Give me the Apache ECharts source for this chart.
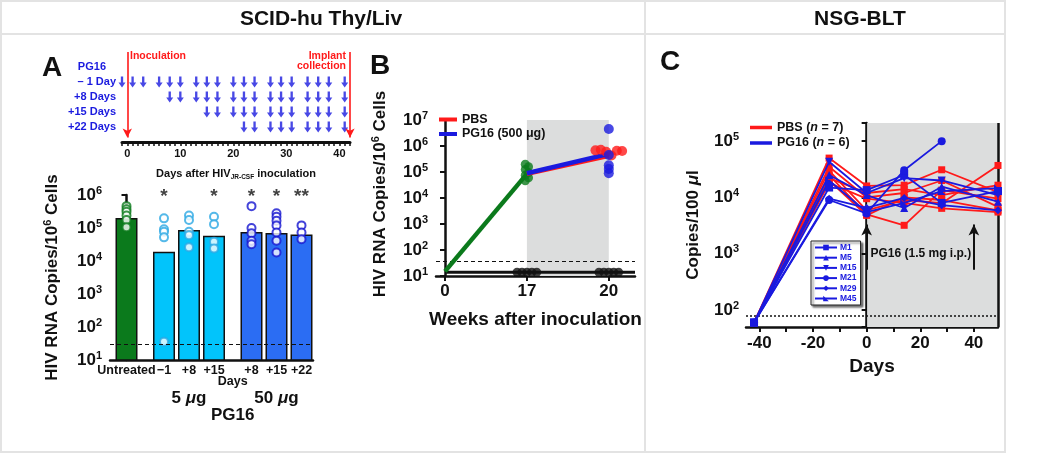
<!DOCTYPE html>
<html><head><meta charset="utf-8">
<script src="https://cdn.jsdelivr.net/npm/echarts@6/dist/echarts.min.js"></script>
<style>html,body{margin:0;padding:0;background:#fff}#c{width:1050px;height:455px}</style>
</head><body><div id="c"></div>
<script>
// ---------------- Panel A (top): PG16 dosing schedule ----------------
const scheduleRows = ['– 1 Day', '+8 Days', '+15 Days', '+22 Days'];
const doseDaysMinus1 = [-1, 1, 3, 6, 8, 10, 13, 15, 17, 20, 22, 24, 27, 29, 31, 34, 36, 38, 41];
const doseDaysPlus8 = [8, 10, 13, 15, 17, 20, 22, 24, 27, 29, 31, 34, 36, 38, 41];
const doseDaysPlus15 = [15, 17, 20, 22, 24, 27, 29, 31, 34, 36, 38, 41];
const doseDaysPlus22 = [22, 24, 27, 29, 31, 34, 36, 38, 41];
const inoculationDay = 0;
const collectionDay = 42;
const scheduleTickLabels = [0, 10, 20, 30, 40];

// ---------------- Panel A (bottom): HIV RNA per group ----------------
const barCategories = ['Untreated', '−1', '+8', '+15', '+8', '+15', '+22'];
const barGroups = ['Untreated', '5 μg', '5 μg', '5 μg', '50 μg', '50 μg', '50 μg'];
const barMeans = [2.0e5, 1.9e4, 8.7e4, 5.8e4, 7.6e4, 7.1e4, 6.3e4];
const pointsUntreated = [4.6e5, 3.7e5, 3.1e5, 2.4e5, 1.75e5, 1.05e5];
const points5ugMinus1 = [1.96e5, 9.1e4, 7.7e4, 5.2e4, 36];
const points5ugPlus8 = [2.4e5, 1.75e5, 7.7e4, 6.0e4, 2.6e4];
const points5ugPlus15 = [2.2e5, 1.3e5, 3.8e4, 2.4e4];
const points50ugPlus8 = [4.6e5, 1.0e5, 6.9e4, 4.1e4, 3.2e4];
const points50ugPlus15 = [2.8e5, 2.2e5, 1.65e5, 1.2e5, 7.3e4, 4.1e4, 1.8e4];
const points50ugPlus22 = [1.2e5, 7.3e4, 4.6e4];
const barSignificance = ['', '*', '', '*', '*', '*', '**'];
const detectionLimitA = 30;

// ---------------- Panel B ----------------
const weeksB = [0, 17, 20];
const greenLineB = [15, 8.5e4];              // weeks 0, 17
const greenDotsWk17 = [2.0e5, 1.6e5, 1.25e5, 9.5e4, 7.5e4, 6.0e4, 4.6e4];
const pbsLineB = [8.5e4, 4.2e5];             // weeks 17, 20
const pg16LineB = [9.0e4, 5.0e5];            // weeks 17, 20
const pbsDotsWk20 = [6.8e5, 7.2e5, 6.0e5, 4.3e5, 6.6e5, 6.4e5];
const pg16DotsWk20 = [4.5e6, 4.5e5, 1.8e5, 1.3e5, 9.0e4];
const undetectableB = 14;
const undetectableWk17 = [14, 14, 14, 14, 14];
const undetectableWk20 = [14, 14, 14, 14, 14];
const detectionLimitB = 38;

// ---------------- Panel C ----------------
const daysC = [-42, -14, 0, 14, 28, 49];
const pbsC1 = [60, 50000, 16000, 16500, 31000, 12400];
const pbsC2 = [60, 25000, 5000, 3200, 13500, 9500];
const pbsC3 = [60, 30000, 5900, 9000, 7900, 37000];
const pbsC4 = [60, 22000, 12000, 14000, 11000, 16500];
const pbsC5 = [60, 18000, 9500, 8000, 6400, 5500];
const pbsC6 = [60, 35000, 10000, 12000, 20000, 6800];
const pbsC7 = [60, 20000, 4800, 10000, 9000, 5900];
const pg16M1 = [60, 15000, 13500, 25000, 8000, 13000];
const pg16M5 = [60, 25000, 11000, 6500, 15500, 8400];
const pg16M15 = [60, 43000, 12000, 22000, 20000, 11000];
const pg16M21 = [60, 9000, 5200, 30500, 100000];
const pg16M29 = [60, 9500, 6500, 9800, 7300, 5900];
const pg16M45 = [60, 20000, 5500, 8000, 13000, 14600];
const detectionLimitC = 78;
const pg16DoseDaysC = [0, 40];

// ======================================================================
const FONT = '"Liberation Sans", Arial, Helvetica, sans-serif';
const BLACK = '#111';
const RED = '#ff1a1a';
const BLUE = '#1a1adf';
const chart = echarts.init(document.getElementById('c'), null, {width: 1050, height: 455});

const bold = (size, color) => ({fontFamily: FONT, fontWeight: 'bold', fontSize: size, color: color || BLACK});
const logFormatter = v => {
  const e = Math.log10(v);
  if (Math.abs(e - Math.round(e)) > 1e-6) return '';
  return '{b|10}{s|' + Math.round(e) + '}';
};
const logRich = (b, s) => ({b: bold(b), s: Object.assign(bold(s), {padding: [0, 0, Math.round(b * 0.55), 0]})});
const axisLineStyle = {lineStyle: {color: BLACK, width: 2.5}};
const tickStyle = {show: true, length: 5, lineStyle: {color: BLACK, width: 2}};

// bar positions with extra gap between groups
const barPos = [];
barCategories.forEach((c, i) => {
  if (i === 0) barPos.push(0);
  else barPos.push(barPos[i - 1] + (barGroups[i] !== barGroups[i - 1] ? 1.5 : 1));
});
const groupColor = {'Untreated': '#0b7a1c', '5 μg': '#02c4fb', '50 μg': '#2b6df3'};
const pointColor = {'Untreated': '#0b7a1c', '5 μg': '#2aa8e4', '50 μg': '#1414d0'};
const pointSets = [pointsUntreated, points5ugMinus1, points5ugPlus8, points5ugPlus15, points50ugPlus8, points50ugPlus15, points50ugPlus22];

const arrowDown = 'path://M2,0L4,0L4,5.5L6,5.5L3,10L0,5.5L2,5.5Z';
const scheduleSets = [doseDaysMinus1, doseDaysPlus8, doseDaysPlus15, doseDaysPlus22];

const series = [];

// ---- schedule ----
scheduleSets.forEach((days, r) => {
  series.push({
    type: 'scatter', name: scheduleRows[r], xAxisIndex: 0, yAxisIndex: 0,
    symbol: arrowDown, symbolSize: [7, 11], itemStyle: {color: BLUE},
    data: days.map(d => [d, scheduleRows.length - r]), silent: true,
    markLine: r === 0 ? {
      silent: true, symbol: ['none', 'arrow'], symbolSize: [7, 9], label: {show: false},
      data: [
        [{coord: [inoculationDay, 6]}, {coord: [inoculationDay, 0.3]}],
        [{coord: [collectionDay, 6]}, {coord: [collectionDay, 0.3]}]
      ],
      lineStyle: {color: RED, width: 1.6, type: 'solid'}
    } : undefined
  });
});

// ---- A bars ----
series.push({
  type: 'bar', xAxisIndex: 1, yAxisIndex: 1, barWidth: 22, clip: true,
  data: barMeans.map((v, i) => ({value: [barPos[i], v], itemStyle: {color: groupColor[barGroups[i]]}})),
  itemStyle: {borderColor: BLACK, borderWidth: 1.5},
  markLine: {silent: true, symbol: 'none', label: {show: false},
    lineStyle: {color: BLACK, type: [4, 3], width: 1.2}, data: [{yAxis: detectionLimitA}]}
});
pointSets.forEach((pts, i) => {
  series.push({
    type: 'scatter', xAxisIndex: 1, yAxisIndex: 1, symbol: 'circle', symbolSize: 8,
    itemStyle: {color: '#fff', borderColor: pointColor[barGroups[i]], borderWidth: 2},
    data: pts.map(v => [barPos[i], v])
  });
});
series.push({
  type: 'scatter', xAxisIndex: 1, yAxisIndex: 1, symbolSize: 0,
  data: barSignificance.map((s, i) => ({value: [barPos[i], 1e6], label: {show: !!s, formatter: s}})),
  label: {position: 'inside', offset: [0, 2], ...bold(19)}
});

// ---- B ----
const wIdx = w => weeksB.indexOf(w);
const spread = (arr, center, step) => arr.map((v, j) => [center + (j - (arr.length - 1) / 2) * step, v]);
series.push({
  type: 'line', name: 'Undetectable', xAxisIndex: 2, yAxisIndex: 2, symbol: 'none',
  lineStyle: {color: BLACK, width: 3}, color: BLACK, z: 3,
  data: [[wIdx(0), undetectableB], [2.32, undetectableB]],
  markArea: {silent: true, itemStyle: {color: '#dcdddd'}, data: [[{xAxis: wIdx(17)}, {xAxis: wIdx(20)}]]},
  markLine: {silent: true, symbol: 'none', label: {show: false},
    lineStyle: {color: BLACK, type: [4, 3], width: 1.2}, data: [{yAxis: detectionLimitB}]}
});
series.push({type: 'scatter', xAxisIndex: 2, yAxisIndex: 2, symbolSize: 9, itemStyle: {color: BLACK}, z: 4,
  data: spread(undetectableWk17, wIdx(17), 0.06).concat(spread(undetectableWk20, wIdx(20), 0.06))});
series.push({type: 'line', xAxisIndex: 2, yAxisIndex: 2, symbol: 'none', color: '#0b7a1c',
  lineStyle: {width: 4.5}, data: [[wIdx(0), greenLineB[0]], [wIdx(17), greenLineB[1]]], z: 5});
series.push({type: 'scatter', xAxisIndex: 2, yAxisIndex: 2, symbolSize: 9, itemStyle: {color: '#0b7a1c'}, z: 5,
  data: greenDotsWk17.map((v, j) => [wIdx(17) + (j % 2 ? 0.02 : -0.02), v])});
series.push({type: 'line', name: 'PBS', xAxisIndex: 2, yAxisIndex: 2, symbol: 'none', color: RED,
  lineStyle: {width: 4.5}, data: [[wIdx(17), pbsLineB[0]], [wIdx(20), pbsLineB[1]]], z: 6});
series.push({type: 'line', name: 'PG16 (500 μg)', xAxisIndex: 2, yAxisIndex: 2, symbol: 'none', color: BLUE,
  lineStyle: {width: 4.5}, data: [[wIdx(17), pg16LineB[0]], [wIdx(20), pg16LineB[1]]], z: 7});
series.push({type: 'scatter', xAxisIndex: 2, yAxisIndex: 2, symbolSize: 10, itemStyle: {color: RED}, z: 8,
  data: spread(pbsDotsWk20, wIdx(20), 0.065)});
series.push({type: 'scatter', xAxisIndex: 2, yAxisIndex: 2, symbolSize: 10, itemStyle: {color: BLUE}, z: 9,
  data: pg16DotsWk20.map(v => [wIdx(20), v])});

// ---- C ----
const pbsSetsC = [pbsC1, pbsC2, pbsC3, pbsC4, pbsC5, pbsC6, pbsC7];
const pg16SetsC = [
  {name: 'M1', data: pg16M1, symbol: 'rect', rot: 0},
  {name: 'M5', data: pg16M5, symbol: 'triangle', rot: 0},
  {name: 'M15', data: pg16M15, symbol: 'triangle', rot: 180},
  {name: 'M21', data: pg16M21, symbol: 'circle', rot: 0},
  {name: 'M29', data: pg16M29, symbol: 'diamond', rot: 0},
  {name: 'M45', data: pg16M45, symbol: 'path://M0,0L0,10L10,10Z', rot: 0}
];
series.push({
  type: 'line', name: 'PG16 (n = 6)', xAxisIndex: 3, yAxisIndex: 3, color: BLUE, data: [], symbol: 'none',
  markArea: {silent: true, itemStyle: {color: '#dcdddd'}, data: [[{xAxis: 0}, {xAxis: 49}]]},
  markLine: {silent: true, symbol: 'none', label: {show: false}, data: [
    {xAxis: 0, lineStyle: {color: BLACK, width: 1.2, type: 'solid'}},
    {xAxis: 49, lineStyle: {color: BLACK, width: 2.5, type: 'solid'}},
    {yAxis: detectionLimitC, lineStyle: {color: BLACK, width: 1.5, type: [2, 2]}},
    [{coord: [pg16DoseDaysC[0], 520], symbol: 'none'}, {coord: [pg16DoseDaysC[0], 3300], symbol: 'arrow', symbolSize: [8, 11], lineStyle: {color: BLACK, width: 2, type: 'solid'}}],
    [{coord: [pg16DoseDaysC[1], 520], symbol: 'none'}, {coord: [pg16DoseDaysC[1], 3300], symbol: 'arrow', symbolSize: [8, 11], lineStyle: {color: BLACK, width: 2, type: 'solid'}}]
  ]}
});
pbsSetsC.forEach(arr => series.push({
  type: 'line', name: 'PBS (n = 7)', xAxisIndex: 3, yAxisIndex: 3, color: RED, symbol: 'rect', symbolSize: 7,
  lineStyle: {width: 1.8}, data: arr.map((v, j) => [daysC[j], v]), z: 5
}));
pg16SetsC.forEach(s => series.push({
  type: 'line', name: s.name, xAxisIndex: 3, yAxisIndex: 3, color: BLUE, symbol: s.symbol, symbolRotate: s.rot,
  symbolSize: 8, lineStyle: {width: 1.8}, data: s.data.map((v, j) => [daysC[j], v]), z: 6
}));

const option = {
  animation: false,
  backgroundColor: '#fff',
  textStyle: {fontFamily: FONT},
  grid: [
    {left: 122, top: 52, width: 228, height: 90},
    {left: 110, top: 195, width: 203, height: 165},
    {left: 436, top: 120, width: 199, height: 156},
    {left: 746, top: 123, width: 252, height: 204}
  ],
  xAxis: [
    {gridIndex: 0, type: 'value', min: -1, max: 42, splitLine: {show: false},
      axisLine: {lineStyle: {color: BLACK, width: 3}},
      axisTick: {show: true, length: 4, lineStyle: {color: BLACK, width: 1.5},
        customValues: Array.from({length: 44}, (_, k) => k - 1)},
      axisLabel: {customValues: scheduleTickLabels, margin: 6, ...bold(11)},
      name: '{t|Days after HIV}{sub|JR-CSF}{t| inoculation}', nameLocation: 'middle', nameGap: 25,
      nameTextStyle: {rich: {t: bold(11), sub: Object.assign(bold(6.5), {padding: [7, 0, 0, 0]})}}},
    {gridIndex: 1, type: 'value', min: -0.66, max: 7.46, splitLine: {show: false}, axisLine: axisLineStyle,
      axisTick: {show: false},
      axisLabel: {customValues: barPos, margin: 4, ...bold(12.5),
        formatter: v => { const i = barPos.findIndex(p => Math.abs(p - v) < 1e-6); return i >= 0 ? barCategories[i] : ''; }}},
    {gridIndex: 2, type: 'value', min: -0.11, max: 2.32, splitLine: {show: false}, axisLine: axisLineStyle,
      axisTick: Object.assign({}, tickStyle, {customValues: weeksB.map((w, i) => i)}),
      axisLabel: {customValues: weeksB.map((w, i) => i), margin: 7, ...bold(17),
        formatter: v => { const i = Math.round(v); return Math.abs(i - v) < 1e-6 && weeksB[i] !== undefined ? String(weeksB[i]) : ''; }},
      name: 'Weeks after inoculation', nameLocation: 'middle', nameGap: 34, nameTextStyle: bold(19)},
    {gridIndex: 3, type: 'value', min: -45, max: 49, splitLine: {show: false}, axisLine: axisLineStyle,
      axisTick: Object.assign({}, tickStyle, {customValues: [-40, -30, -20, -10, 0, 10, 20, 30, 40]}),
      axisLabel: {customValues: [-40, -20, 0, 20, 40], margin: 8, ...bold(17)},
      name: 'Days', nameLocation: 'middle', nameGap: 30, nameTextStyle: bold(19)}
  ],
  yAxis: [
    {gridIndex: 0, type: 'value', min: 0, max: 6, splitLine: {show: false}, axisLine: {show: false}, axisTick: {show: false},
      axisLabel: {customValues: [5, 4, 3, 2, 1], margin: 6,
        formatter: v => v === 5 ? '{p|PG16}' : '{r|' + scheduleRows[4 - v] + '}',
        rich: {p: Object.assign(bold(11, BLUE), {padding: [0, 10, 0, 0]}), r: bold(11, BLUE)}}},
    {gridIndex: 1, type: 'log', min: 10, max: 1e6, splitLine: {show: false}, axisLine: axisLineStyle, axisTick: tickStyle,
      axisLabel: {formatter: logFormatter, rich: logRich(17, 11), margin: 8},
      name: '{t|HIV RNA Copies/10}{s|6}{t| Cells}', nameLocation: 'middle', nameGap: 48,
      nameTextStyle: {rich: {t: bold(17), s: Object.assign(bold(11), {padding: [0, 0, 9, 0]})}}},
    {gridIndex: 2, type: 'log', min: 10, max: 1e7, splitLine: {show: false}, axisLine: axisLineStyle, axisTick: tickStyle,
      axisLabel: {formatter: logFormatter, rich: logRich(17, 11), margin: 8},
      name: '{t|HIV RNA Copies/10}{s|6}{t| Cells}', nameLocation: 'middle', nameGap: 46,
      nameTextStyle: {padding: [0, 0, 0, 8], rich: {t: bold(17), s: Object.assign(bold(11), {padding: [0, 0, 9, 0]})}}},
    {gridIndex: 3, type: 'log', min: 50, max: 2.1e5, splitLine: {show: false}, axisLine: axisLineStyle, axisTick: tickStyle,
      axisLabel: {formatter: logFormatter, rich: logRich(17, 11), margin: 7},
      name: '{t|Copies/100 }{i|μ}{t|l}', nameLocation: 'middle', nameGap: 44,
      nameTextStyle: {rich: {t: bold(17), i: Object.assign(bold(17), {fontStyle: 'italic'})}}}
  ],
  legend: [
    {data: ['PBS', 'PG16 (500 μg)'], left: 439, top: 113, orient: 'vertical', icon: 'rect', itemWidth: 18, itemHeight: 4,
      itemGap: 1.5, selectedMode: false, textStyle: bold(12.5), padding: 0},
    {data: ['PBS (n = 7)', 'PG16 (n = 6)'], left: 750, top: 121, orient: 'vertical', icon: 'rect', itemWidth: 22, itemHeight: 3.5,
      itemGap: 2.5, selectedMode: false, padding: 0,
      formatter: n => { const k = n.indexOf('(n'); return '{t|' + n.slice(0, k) + '(}{i|n}{t|' + n.slice(k + 2) + '}'; },
      textStyle: {rich: {t: bold(12.5), i: Object.assign(bold(12.5), {fontStyle: 'italic'})}}},
    {data: ['M1', 'M5', 'M15', 'M21', 'M29', 'M45'], left: 811, top: 241, orient: 'vertical', itemWidth: 22, itemHeight: 7,
      itemGap: 1.2, selectedMode: false, padding: [2, 4, 2, 3], backgroundColor: '#fff', borderColor: '#222', borderWidth: 1,
      shadowColor: 'rgba(0,0,0,0.55)', shadowOffsetX: 2, shadowOffsetY: 2, shadowBlur: 2,
      textStyle: Object.assign(bold(8.5, BLUE), {padding: [0, 0, 0, -2]})}
  ],
  series: series
};
chart.setOption(option);

// ---------- annotations placed through the axes ----------
const pxA = (x, y) => chart.convertToPixel({xAxisIndex: 1, yAxisIndex: 1}, [x, y]);
const pxC = (x, y) => chart.convertToPixel({xAxisIndex: 3, yAxisIndex: 3}, [x, y]);
const treated = barPos.filter((p, i) => barGroups[i] !== 'Untreated');
const mean = a => a.reduce((s, v) => s + v, 0) / a.length;
const g5 = mean(barPos.filter((p, i) => barGroups[i] === '5 μg'));
const g50 = mean(barPos.filter((p, i) => barGroups[i] === '50 μg'));
const midTreated = (Math.min(...treated) + Math.max(...treated)) / 2;
const tDays = pxA(midTreated, 10)[0];
const t5 = pxA(g5, 10)[0];
const t50 = pxA(g50, 10)[0];
const cText = pxC(20.2, 1000);

const txt = (x, y, text, style, align) => ({type: 'text', x: x, y: y, silent: true, z: 100,
  style: Object.assign({text: text, align: align || 'center', verticalAlign: 'middle'}, style)});
const fnt = (sz, italic) => (italic ? 'italic ' : '') + 'bold ' + sz + 'px ' + FONT;

chart.setOption({
  graphic: [
    {type: 'rect', silent: true, shape: {x: 1, y: 1, width: 1004, height: 451}, style: {fill: 'none', stroke: '#e3e3e3', lineWidth: 2}},
    {type: 'line', silent: true, shape: {x1: 1, y1: 34, x2: 1005, y2: 34}, style: {stroke: '#e3e3e3', lineWidth: 2}},
    {type: 'line', silent: true, shape: {x1: 645, y1: 1, x2: 645, y2: 452}, style: {stroke: '#e3e3e3', lineWidth: 2}},
    txt(321, 19, 'SCID-hu Thy/Liv', {font: fnt(21), fill: BLACK}),
    txt(860, 19, 'NSG-BLT', {font: fnt(21), fill: BLACK}),
    txt(52, 68, 'A', {font: fnt(28), fill: BLACK}),
    txt(380, 66, 'B', {font: fnt(28), fill: BLACK}),
    txt(670, 62, 'C', {font: fnt(28), fill: BLACK}),
    txt(130, 56, 'Inoculation', {font: fnt(10.5), fill: RED}, 'left'),
    txt(346, 56, 'Implant', {font: fnt(10.5), fill: RED}, 'right'),
    txt(346, 66, 'collection', {font: fnt(10.5), fill: RED}, 'right'),
    txt(tDays, 382, 'Days', {font: fnt(12.5), fill: BLACK}),
    {type: 'text', x: t5, y: 398, silent: true, z: 100, style: {text: '{t|5 }{i|μ}{t|g}', align: 'center', verticalAlign: 'middle',
      rich: {t: {font: fnt(17), fill: BLACK}, i: {font: fnt(17, true), fill: BLACK}}}},
    {type: 'text', x: t50, y: 398, silent: true, z: 100, style: {text: '{t|50 }{i|μ}{t|g}', align: 'center', verticalAlign: 'middle',
      rich: {t: {font: fnt(17), fill: BLACK}, i: {font: fnt(17, true), fill: BLACK}}}},
    txt(tDays, 415, 'PG16', {font: fnt(17), fill: BLACK}),
    txt(cText[0], cText[1], 'PG16 (1.5 mg i.p.)', {font: fnt(12), fill: BLACK})
  ]
});
</script></body></html>
